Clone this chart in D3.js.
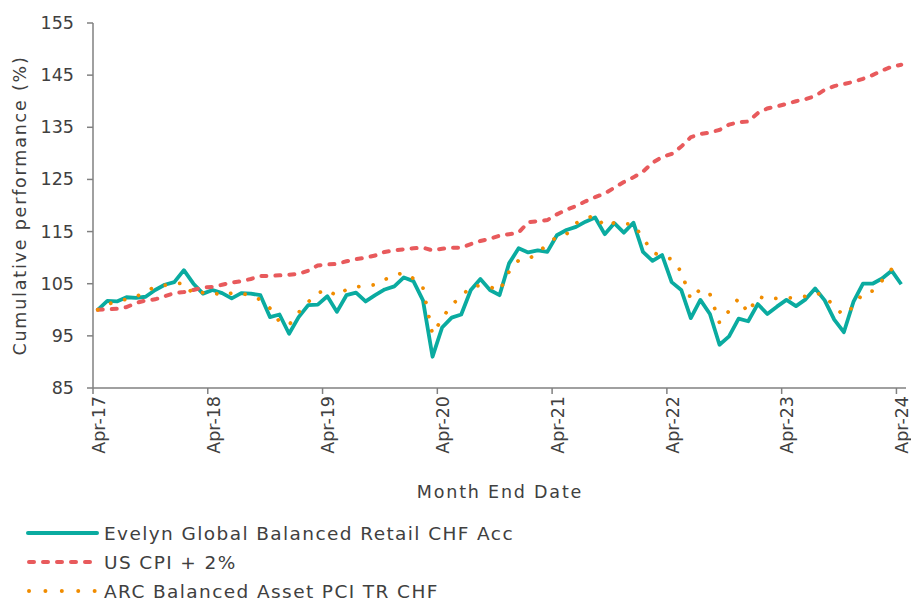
<!DOCTYPE html>
<html>
<head>
<meta charset="utf-8">
<script src="https://cdn.jsdelivr.net/npm/d3@7"></script>
<style>
  body { margin: 0; background: #fff; }
  text { font-family: "DejaVu Sans", sans-serif; fill: #404040; }
</style>
</head>
<body>
<svg width="911" height="601"></svg>
<script>
// cumulative performance chart, monthly, Apr-17 to Apr-24

// series names for the legend
var seriesNames = ['Evelyn Global Balanced Retail CHF Acc', 'US CPI + 2%', 'ARC Balanced Asset PCI TR CHF'];

// fund values (one per month end)
var evelyn = [100.0, 101.7, 101.6, 102.4, 102.3, 102.5, 103.8, 104.8, 105.3, 107.6, 105.0, 103.1,
    103.8, 103.2, 102.2, 103.2, 103.1, 102.8, 98.6, 99.1, 95.4, 98.6, 100.9, 101.0,
    102.6, 99.6, 102.8, 103.3, 101.6, 102.8, 103.9, 104.5, 106.2, 105.5, 101.8, 91.0,
    96.6, 98.5, 99.1, 103.8, 105.9, 103.8, 102.8, 108.9, 111.8, 111.0, 111.4, 111.1,
    114.3, 115.3, 115.9, 116.9, 117.7, 114.5, 116.6, 114.8, 116.7, 111.1, 109.4, 110.5,
    105.3, 103.8, 98.4, 101.9, 99.2, 93.3, 94.9, 98.3, 97.8, 101.1, 99.2, 100.6,
    101.9, 100.7, 102.0, 104.1, 101.8, 98.1, 95.7, 101.5, 105.0, 105.0, 106.0, 107.5,
    104.9];

// US CPI + 2%
var cpi = [100.0, 100.1, 100.2, 100.5, 101.3, 101.8, 102.0, 102.6, 103.2, 103.4, 103.8, 104.3,
    104.4, 104.8, 105.2, 105.5, 105.9, 106.5, 106.5, 106.6, 106.7, 106.9, 107.5, 108.5,
    108.7, 108.8, 109.3, 109.7, 110.0, 110.4, 111.1, 111.4, 111.6, 111.8, 111.9, 111.4,
    111.7, 111.9, 111.9, 112.6, 113.2, 113.6, 114.2, 114.5, 114.8, 116.8, 117.0, 117.2,
    118.3, 119.2, 119.9, 120.8, 121.6, 122.3, 123.4, 124.5, 125.4, 126.5, 128.2, 129.3,
    129.9, 131.3, 133.1, 133.7, 134.0, 134.5, 135.5, 136.0, 136.1, 137.7, 138.6, 139.0,
    139.5, 140.0, 140.4, 141.0, 142.2, 142.9, 143.3, 143.7, 144.3, 145.0, 145.9, 146.6,
    147.0];

// ARC benchmark
var arc = [100.0, 101.0, 101.7, 102.0, 102.5, 103.5, 104.4, 104.7, 104.9, 105.2, 102.9, 103.3,
    103.4, 102.7, 103.2, 103.1, 102.8, 101.9, 100.3, 97.7, 97.1, 99.5, 101.5, 103.2,
    103.9, 102.6, 103.9, 104.4, 104.6, 104.8, 105.8, 106.6, 107.1, 106.0, 104.2, 95.3,
    98.3, 101.0, 102.5, 104.5, 104.6, 104.4, 103.6, 107.3, 109.5, 109.7, 110.9, 112.6,
    114.0, 114.5, 116.6, 117.5, 118.1, 116.0, 116.7, 116.5, 116.4, 113.8, 111.0, 110.3,
    109.7, 107.3, 102.0, 104.0, 103.0, 97.5, 99.8, 102.2, 99.4, 102.6, 102.0, 102.2,
    102.3, 102.3, 102.6, 103.2, 102.8, 100.5, 99.0, 100.6, 103.2, 103.6, 105.6, 107.8,
    108.3];

// axis ticks
var yTicks = [85, 95, 105, 115, 125, 135, 145, 155];
var xTickLabels = ['Apr-17', 'Apr-18', 'Apr-19', 'Apr-20', 'Apr-21', 'Apr-22', 'Apr-23', 'Apr-24'];

// month categories, Apr 2017 .. Apr 2024
var months = d3.timeMonth.range(new Date(2017, 3, 1), new Date(2024, 4, 1));

var colors = ['#0aaba0', '#e85a5c', '#f08c00'];

var svg = d3.select('svg');

var plotLeft = 93, plotRight = 906, plotTop = 23, plotBottom = 388;

// category axis, points sit in the middle of each month
var xScale = d3.scaleBand()
    .domain(months.map(function (d, i) { return i; }))
    .range([plotLeft, plotRight]);

var yScale = d3.scaleLinear()
    .domain([85, 155])
    .range([plotBottom, plotTop]);

function xMid(i) {
    return xScale(i) + xScale.bandwidth() / 2;
}

// y axis
var yAxis = svg.append('g');
yAxis.append('line')
    .attr('x1', plotLeft).attr('x2', plotLeft)
    .attr('y1', yScale(155)).attr('y2', yScale(85))
    .attr('stroke', '#808080').attr('stroke-width', 1.5);
yAxis.selectAll('.ytick')
    .data(yTicks)
    .enter()
    .append('line')
    .attr('x1', plotLeft - 6).attr('x2', plotLeft)
    .attr('y1', function (d) { return yScale(d); })
    .attr('y2', function (d) { return yScale(d); })
    .attr('stroke', '#808080').attr('stroke-width', 1.5);
yAxis.selectAll('text')
    .data(yTicks)
    .enter()
    .append('text')
    .attr('x', 74)
    .attr('y', function (d) { return yScale(d); })
    .attr('text-anchor', 'end')
    .attr('dominant-baseline', 'central')
    .style('font-size', '17.5px')
    .text(function (d) { return d; });

// x axis
var xAxis = svg.append('g');
xAxis.append('line')
    .attr('x1', plotLeft).attr('x2', plotRight)
    .attr('y1', plotBottom).attr('y2', plotBottom)
    .attr('stroke', '#808080').attr('stroke-width', 1.5);
xAxis.selectAll('.xtick')
    .data(xTickLabels)
    .enter()
    .append('line')
    .attr('x1', function (d, i) { return xScale(i * 12); })
    .attr('x2', function (d, i) { return xScale(i * 12); })
    .attr('y1', plotBottom).attr('y2', plotBottom + 6)
    .attr('stroke', '#808080').attr('stroke-width', 1.5);
xAxis.selectAll('text')
    .data(xTickLabels)
    .enter()
    .append('text')
    .attr('transform', function (d, i) {
        return 'translate(' + [xMid(i * 12) + 1, plotBottom + 8] + ') rotate(-90)';
    })
    .attr('text-anchor', 'end')
    .attr('dominant-baseline', 'central')
    .style('font-size', '17.5px')
    .text(function (d) { return d; });

// axis titles
svg.append('text')
    .attr('transform', 'translate(20,' + (plotTop + plotBottom) / 2 + ') rotate(-90)')
    .attr('text-anchor', 'middle')
    .attr('dominant-baseline', 'central')
    .style('font-size', '17.5px')
    .style('letter-spacing', '1.8px')
    .text('Cumulative performance (%)');

svg.append('text')
    .attr('x', 500)
    .attr('y', 498)
    .attr('text-anchor', 'middle')
    .style('font-size', '17.5px')
    .style('letter-spacing', '1.8px')
    .text('Month End Date');

// lines
var line = d3.line()
    .x(function (d, i) { return xMid(i); })
    .y(function (d) { return yScale(d); });

svg.append('path')
    .attr('d', line(evelyn))
    .attr('fill', 'none')
    .attr('stroke', colors[0])
    .attr('stroke-width', 3.8)
    .attr('stroke-linejoin', 'round');

svg.append('path')
    .attr('d', line(cpi))
    .attr('fill', 'none')
    .attr('stroke', colors[1])
    .attr('stroke-width', 4)
    .attr('stroke-linecap', 'round')
    .attr('stroke-dasharray', '5 9');

svg.append('path')
    .attr('d', line(arc))
    .attr('fill', 'none')
    .attr('stroke', colors[2])
    .attr('stroke-width', 3.8)
    .attr('stroke-linecap', 'round')
    .attr('stroke-dasharray', '0.01 14.5');

// legend
var dashes = [null, '5 9', '0.01 16.4'];
var legend = svg.selectAll('.legend')
    .data(seriesNames)
    .enter()
    .append('g')
    .attr('transform', function (d, i) { return 'translate(0,' + (533 + i * 29) + ')'; });

legend.append('line')
    .attr('x1', function (d, i) { return i == 0 ? 28 : 29; })
    .attr('x2', 97)
    .attr('y1', 0).attr('y2', 0)
    .attr('stroke', function (d, i) { return colors[i]; })
    .attr('stroke-width', 4)
    .attr('stroke-linecap', 'round')
    .attr('stroke-dasharray', function (d, i) { return dashes[i]; });

legend.append('text')
    .attr('x', 104)
    .attr('y', 0)
    .attr('dominant-baseline', 'central')
    .style('font-size', '18.5px')
    .style('letter-spacing', '1.4px')
    .text(function (d) { return d; });
</script>
</body>
</html>
